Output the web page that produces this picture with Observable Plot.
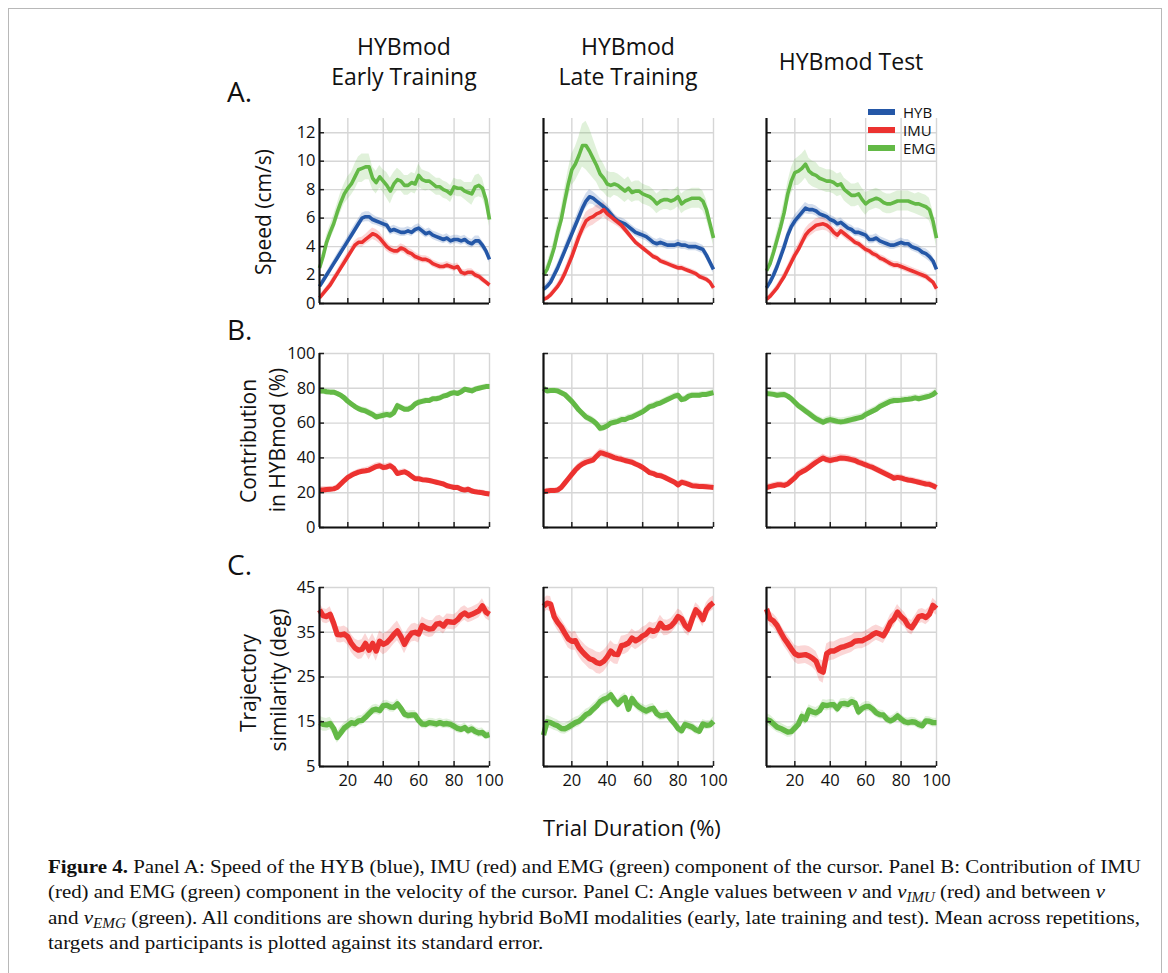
<!DOCTYPE html>
<html><head><meta charset="utf-8">
<script src="https://cdn.jsdelivr.net/npm/d3@7"></script>
<script src="https://cdn.jsdelivr.net/npm/@observablehq/plot@0.6"></script>
<style>
html,body{margin:0;padding:0;background:#fff;}
body{width:1168px;height:973px;overflow:hidden;position:relative;font-family:"Open Sans",sans-serif;color:#111;}
.abs{position:absolute;white-space:nowrap;}
#frame{position:absolute;left:8px;top:8px;width:1152px;height:1000px;border:1.5px solid #b8b8b8;}
.title{font-size:23px;line-height:30px;text-align:center;width:260px;}
.letter{font-size:28px;line-height:28px;}
.ylab{font-size:21px;line-height:24px;transform:translate(-50%,-50%) rotate(-90deg);}
.cap{position:absolute;left:48px;font-family:"Liberation Serif",serif;font-size:19.5px;line-height:25px;white-space:nowrap;color:#111;transform-origin:0 50%;}
.cap i{font-style:italic;}
.cap sub{font-size:0.72em;font-style:italic;vertical-align:-0.25em;line-height:0;}
.leg{font-size:15px;line-height:18px;}
.sw{position:absolute;width:27px;height:6px;}
</style></head><body>
<div id="frame"></div>
<div id="root"></div>
<script>
// ---------- data ----------
const pct = [4,6,8,10,12,14,16,18,20,22,24,26,28,30,32,34,36,38,40,42,44,46,48,50,52,54,56,58,60,62,64,66,68,70,72,74,76,78,80,82,84,86,88,90,92,94,96,98,100];
const conditions = [["HYBmod","Early Training"],["HYBmod","Late Training"],["HYBmod Test"]];
const components = ["HYB","IMU","EMG"];
const xTicks = [20,40,60,80,100];
const speedTicks = [0,2,4,6,8,10,12];
const contribTicks = [0,20,40,60,80,100];
const angleTicks = [5,15,25,35,45];

// Panel A: speed (cm/s)
const speedEarlyHYB = [1.2,1.6,2.0,2.4,2.8,3.2,3.6,4.0,4.4,4.8,5.2,5.6,6.0,6.1,6.1,5.9,5.8,5.7,5.6,5.5,5.1,5.2,5.1,5.0,5.0,5.1,5.0,5.2,5.3,5.1,4.9,5.0,4.8,4.7,4.6,4.5,4.6,4.4,4.5,4.5,4.4,4.5,4.3,4.2,4.4,4.4,4.1,3.7,3.1];
const speedEarlyIMU = [0.4,0.7,1.0,1.3,1.7,2.1,2.5,2.9,3.3,3.7,4.1,4.3,4.3,4.5,4.7,4.9,4.8,4.6,4.3,4.0,3.8,3.7,3.7,3.9,3.8,3.6,3.5,3.3,3.2,3.1,3.1,3.0,2.8,2.7,2.6,2.6,2.7,2.6,2.5,2.6,2.2,2.1,2.2,2.2,2.0,1.9,1.7,1.5,1.3];
const speedEarlyEMG = [2.5,3.3,4.3,5.0,5.6,6.4,7.1,7.7,8.1,8.4,8.9,9.4,9.5,9.6,9.6,8.8,8.5,8.9,8.6,8.3,7.9,8.4,8.7,8.6,8.3,8.3,8.5,8.4,9.0,8.7,8.6,8.6,8.4,8.2,8.2,8.0,7.9,7.7,8.2,8.1,8.1,7.9,7.8,7.7,8.2,8.3,8.1,7.3,5.9];
const speedLateHYB = [1.0,1.2,1.5,2.0,2.5,3.1,3.7,4.3,4.9,5.5,6.1,6.7,7.2,7.5,7.4,7.2,7.0,6.8,6.6,6.3,6.0,5.8,5.7,5.6,5.4,5.2,5.0,4.9,4.8,4.7,4.5,4.3,4.2,4.3,4.2,4.1,4.1,4.1,4.2,4.1,4.1,4.0,4.0,4.0,3.9,3.8,3.4,2.9,2.4];
const speedLateIMU = [0.3,0.4,0.6,0.9,1.2,1.6,2.1,2.7,3.3,4.0,4.7,5.3,5.8,6.0,6.1,6.3,6.4,6.6,6.3,6.1,5.9,5.7,5.5,5.2,4.9,4.6,4.3,4.1,3.9,3.7,3.5,3.3,3.2,3.0,2.9,2.8,2.7,2.6,2.5,2.5,2.4,2.3,2.2,2.1,1.9,1.8,1.7,1.5,1.1];
const speedLateEMG = [2.0,2.4,3.1,3.9,5.0,5.9,7.2,8.4,9.4,9.8,10.4,11.1,11.1,10.7,10.2,9.7,9.1,8.8,8.4,8.3,8.4,8.3,8.1,7.9,8.1,7.8,7.9,7.9,7.7,7.6,7.5,7.3,7.0,7.2,7.3,7.3,7.2,7.3,7.5,7.0,7.2,7.3,7.4,7.4,7.4,7.2,6.6,5.6,4.6];
const speedTestHYB = [1.1,1.5,2.0,2.6,3.3,4.0,4.8,5.4,5.8,6.1,6.4,6.7,6.6,6.6,6.5,6.3,6.2,6.1,5.9,5.8,5.6,5.7,5.5,5.3,5.2,5.0,5.0,4.9,4.8,4.5,4.5,4.6,4.4,4.3,4.2,4.1,4.1,4.2,4.3,4.2,4.2,4.0,3.9,3.8,3.6,3.5,3.3,3.0,2.4];
const speedTestIMU = [0.3,0.5,0.8,1.1,1.5,1.9,2.4,2.9,3.4,3.8,4.3,4.8,5.1,5.3,5.5,5.55,5.6,5.5,5.3,5.0,4.8,5.1,4.9,4.7,4.5,4.3,4.2,4.0,3.8,3.7,3.5,3.4,3.2,3.1,2.95,2.8,2.7,2.7,2.6,2.5,2.4,2.3,2.2,2.1,2.0,1.9,1.7,1.5,1.05];
const speedTestEMG = [2.3,2.8,3.6,4.5,5.4,6.4,7.7,8.6,9.2,9.3,9.5,9.8,9.3,9.1,9.0,8.8,8.7,8.6,8.6,8.5,8.3,8.4,8.0,7.8,7.6,7.6,7.7,7.3,7.0,7.2,7.3,7.4,7.3,7.1,7.0,7.0,7.1,7.2,7.2,7.2,7.2,7.1,7.0,7.0,6.9,6.8,6.6,5.8,4.6];
// standard errors, panel A
const seSpeedEarlyHYB = [0.2,0.2,0.2,0.25,0.25,0.3,0.3,0.3,0.3,0.35,0.35,0.35,0.35,0.35,0.35,0.35,0.3,0.3,0.3,0.3,0.3,0.3,0.3,0.3,0.3,0.3,0.3,0.3,0.3,0.3,0.3,0.3,0.3,0.3,0.3,0.3,0.3,0.3,0.3,0.3,0.3,0.3,0.3,0.3,0.35,0.35,0.3,0.3,0.25];
const seSpeedEarlyIMU = [0.15,0.2,0.2,0.25,0.25,0.25,0.3,0.3,0.3,0.3,0.3,0.3,0.35,0.35,0.4,0.4,0.4,0.4,0.35,0.35,0.3,0.3,0.3,0.3,0.3,0.3,0.3,0.3,0.25,0.25,0.25,0.25,0.25,0.25,0.25,0.25,0.25,0.25,0.25,0.25,0.25,0.25,0.25,0.25,0.25,0.25,0.25,0.2,0.2];
const seSpeedEarlyEMG = [0.3,0.4,0.5,0.5,0.6,0.6,0.7,0.7,0.8,0.8,0.9,0.9,1.0,0.9,0.9,0.8,0.8,0.8,0.8,0.9,0.9,0.8,0.8,0.7,0.7,0.7,0.7,0.7,0.8,0.7,0.7,0.6,0.6,0.6,0.6,0.6,0.6,0.6,0.6,0.6,0.6,0.6,0.7,0.8,0.8,0.8,0.7,0.6,0.5];
const seSpeedLateHYB = [0.2,0.25,0.3,0.3,0.35,0.35,0.4,0.4,0.45,0.45,0.5,0.5,0.5,0.5,0.45,0.45,0.4,0.4,0.35,0.35,0.3,0.3,0.3,0.3,0.3,0.3,0.3,0.3,0.3,0.3,0.3,0.3,0.3,0.3,0.3,0.3,0.3,0.3,0.3,0.3,0.3,0.3,0.3,0.3,0.3,0.3,0.3,0.3,0.25];
const seSpeedLateIMU = [0.15,0.15,0.2,0.2,0.25,0.3,0.35,0.4,0.45,0.5,0.5,0.55,0.6,0.6,0.6,0.6,0.55,0.5,0.45,0.4,0.35,0.3,0.3,0.25,0.25,0.2,0.2,0.2,0.2,0.2,0.2,0.2,0.2,0.2,0.2,0.2,0.2,0.2,0.2,0.2,0.2,0.2,0.2,0.2,0.2,0.2,0.2,0.2,0.2];
const seSpeedLateEMG = [0.3,0.4,0.5,0.6,0.7,0.8,0.9,1.0,1.1,1.2,1.3,1.5,1.7,1.6,1.4,1.2,1.1,1.0,0.9,0.9,0.8,0.8,0.8,0.8,0.8,0.7,0.7,0.7,0.7,0.7,0.7,0.7,0.7,0.7,0.7,0.7,0.7,0.7,0.7,0.7,0.7,0.7,0.7,0.7,0.7,0.7,0.7,0.6,0.5];
const seSpeedTestHYB = [0.2,0.25,0.3,0.3,0.35,0.35,0.35,0.4,0.4,0.4,0.4,0.4,0.35,0.35,0.35,0.35,0.3,0.3,0.3,0.3,0.3,0.3,0.3,0.3,0.3,0.3,0.3,0.3,0.3,0.3,0.3,0.3,0.3,0.3,0.3,0.3,0.3,0.3,0.3,0.3,0.3,0.3,0.3,0.3,0.3,0.35,0.35,0.3,0.25];
const seSpeedTestIMU = [0.15,0.2,0.2,0.25,0.25,0.3,0.3,0.35,0.35,0.4,0.4,0.45,0.45,0.45,0.45,0.45,0.45,0.4,0.4,0.35,0.35,0.3,0.3,0.3,0.25,0.25,0.25,0.25,0.25,0.25,0.25,0.25,0.25,0.25,0.25,0.25,0.25,0.25,0.25,0.25,0.25,0.25,0.25,0.25,0.25,0.25,0.25,0.2,0.2];
const seSpeedTestEMG = [0.3,0.4,0.5,0.6,0.7,0.8,0.8,0.9,0.9,1.0,1.0,1.0,0.9,0.9,0.9,0.8,0.8,0.8,0.8,0.8,0.8,0.8,0.8,0.8,0.8,0.8,0.8,0.8,0.8,0.7,0.7,0.7,0.7,0.7,0.7,0.7,0.7,0.7,0.7,0.7,0.7,0.7,0.7,0.8,0.8,0.8,0.8,0.7,0.6];

// Panel B: contribution in HYBmod (%)
const contribEarlyIMU = [21.5,21.5,21.8,22.0,22.2,23.0,25.0,27.0,28.8,30.0,31.0,31.8,32.3,32.6,33.0,34.0,35.0,35.5,34.5,34.8,35.5,34.0,31.0,31.5,32.0,31.0,29.5,28.0,28.0,27.5,27.3,27.0,26.5,26.0,25.5,25.0,24.0,23.5,23.0,23.0,22.0,21.5,22.0,21.0,20.5,20.2,20.0,19.5,19.2];
const contribEarlyEMG = [78.5,78.5,78.0,77.8,77.8,77.0,76.0,74.5,72.5,71.0,69.5,68.3,67.5,67.0,66.0,65.0,63.5,64.0,64.5,65.0,64.5,66.0,70.0,69.0,68.0,68.0,69.0,71.0,72.0,72.5,73.0,73.0,74.0,74.0,74.5,75.5,76.0,77.0,77.5,77.0,78.0,79.5,79.0,78.5,79.5,80.0,80.5,81.0,81.0];
const contribLateIMU = [20.5,21.0,21.2,21.2,21.5,23.0,25.5,28.0,30.5,33.0,35.0,36.5,37.5,38.2,38.8,41.0,43.0,42.5,41.8,41.0,40.2,39.6,39.2,38.5,38.0,37.5,36.5,35.6,34.5,33.0,31.5,31.0,30.0,29.8,29.0,28.0,27.0,26.0,24.5,26.0,25.5,24.8,24.0,23.8,23.6,23.5,23.4,23.2,23.0];
const contribLateEMG = [80.0,78.5,78.7,78.8,78.5,77.5,76.5,74.5,72.5,70.0,67.5,65.5,63.5,62.5,61.3,59.5,57.0,57.5,58.5,60.0,60.5,61.0,62.0,62.0,63.0,63.5,64.5,65.5,66.5,68.0,69.5,70.0,71.0,71.5,72.5,73.5,74.5,75.5,76.0,73.5,74.0,75.5,76.0,76.0,76.0,76.5,76.5,77.0,77.5];
const contribTestIMU = [23.0,23.5,24.0,24.5,24.6,24.2,25.0,26.8,28.5,30.8,32.0,33.0,34.5,36.0,37.5,38.8,40.0,39.0,38.5,39.0,39.4,40.0,39.8,39.5,39.0,38.5,37.5,36.8,36.0,35.2,34.5,33.5,32.5,31.5,30.5,29.5,28.3,28.8,28.5,27.8,27.3,27.0,26.5,26.0,25.5,25.0,24.8,24.0,23.0];
const contribTestEMG = [77.0,76.8,76.5,76.0,76.3,76.5,75.5,74.0,72.0,70.0,68.5,67.0,65.5,64.0,62.5,61.5,60.5,61.5,62.0,61.5,61.0,60.7,61.0,61.5,62.0,62.5,63.0,63.5,65.0,66.0,67.0,68.0,69.5,70.5,71.5,72.5,73.0,73.0,73.2,73.5,73.7,74.0,74.5,74.0,74.5,75.0,75.5,76.5,78.0];
const seContribEarly = [2.0,2.0,1.8,1.6,1.5,1.5,1.5,1.5,1.5,1.6,1.6,1.7,1.8,1.9,2.0,2.0,2.0,2.0,2.0,2.0,2.0,1.9,1.8,1.8,1.7,1.7,1.6,1.6,1.6,1.5,1.5,1.5,1.5,1.5,1.5,1.5,1.5,1.5,1.5,1.5,1.5,1.5,1.5,1.5,1.5,1.5,1.5,1.5,1.5];
const seContribLate = [1.5,1.5,1.5,1.5,1.5,1.6,1.7,1.8,1.9,2.0,2.0,2.0,2.1,2.2,2.2,2.3,2.3,2.2,2.2,2.1,2.0,2.0,2.0,1.9,1.9,1.9,1.8,1.8,1.8,1.8,1.8,1.8,1.8,1.8,1.8,1.8,1.8,1.8,1.8,1.8,1.8,1.8,1.8,1.8,1.8,1.8,1.8,1.8,1.8];
const seContribTest = [1.8,1.8,1.8,1.8,1.8,1.8,1.8,1.8,1.9,2.0,2.0,2.1,2.2,2.2,2.2,2.2,2.2,2.2,2.2,2.2,2.2,2.2,2.2,2.2,2.1,2.1,2.1,2.0,2.0,2.0,2.0,2.0,2.0,2.0,2.0,2.0,2.0,1.9,1.9,1.9,1.9,1.9,1.9,1.9,1.9,1.9,1.9,1.9,1.9];

// Panel C: trajectory similarity (deg)
const angleEarlyIMU = [40.0,38.7,38.5,39.0,37.0,34.5,34.4,34.6,34.0,32.5,31.5,31.0,31.2,32.5,31.0,32.5,30.8,33.0,32.3,32.7,33.5,34.5,35.3,34.0,32.3,33.8,34.8,35.0,34.6,36.5,36.0,35.7,35.8,36.8,37.0,36.4,37.4,37.3,37.2,37.8,38.8,39.3,38.7,39.0,39.4,39.8,40.9,39.5,39.0];
const angleEarlyEMG = [14.8,14.4,14.3,14.6,13.5,11.5,12.5,13.6,14.2,14.8,14.6,15.2,15.3,16.0,16.8,17.6,17.8,17.5,18.6,18.7,18.3,18.2,19.0,18.0,16.7,16.4,16.5,16.5,15.3,14.5,14.4,14.8,14.7,14.5,14.8,14.5,14.6,14.4,14.0,13.5,13.3,13.7,13.0,13.4,12.8,12.5,12.6,11.9,12.1];
const angleLateIMU = [40.8,41.5,41.3,38.5,37.2,36.2,34.8,33.5,33.0,33.1,31.6,30.6,29.8,29.1,28.8,28.2,28.0,28.5,29.5,30.8,30.1,30.0,32.0,32.2,32.6,33.7,33.1,33.5,34.2,34.6,35.5,35.2,35.5,37.0,36.0,36.0,36.4,37.3,38.5,38.0,36.5,35.7,38.0,40.0,39.2,37.8,40.0,41.0,41.6];
const angleLateEMG = [12.0,15.0,14.8,14.4,14.1,13.5,13.4,13.8,14.3,14.8,15.1,15.8,16.6,17.0,17.8,18.5,19.5,20.0,20.3,21.0,19.8,18.9,19.8,20.4,17.8,20.2,19.0,18.3,17.8,17.4,17.8,18.0,16.8,16.3,16.4,16.6,15.5,14.6,13.5,13.0,14.4,14.1,13.8,13.2,12.9,14.5,14.2,14.3,15.1];
const angleTestIMU = [40.2,38.0,37.5,36.5,35.0,33.6,32.5,31.3,30.2,29.8,29.9,30.0,29.7,29.2,28.5,26.5,26.1,30.2,30.8,30.8,31.2,31.6,31.8,32.1,32.4,33.0,33.1,33.1,33.5,33.9,34.5,34.9,34.6,34.2,35.5,37.2,38.0,39.5,38.5,37.8,36.5,36.0,37.2,38.5,38.7,38.3,39.0,41.0,40.3];
const angleTestEMG = [15.5,15.2,14.5,13.8,13.5,13.1,12.7,12.8,13.6,14.4,16.2,15.5,17.6,17.2,17.0,17.5,18.8,18.6,18.8,18.8,17.9,19.0,19.1,18.9,19.5,19.2,17.2,18.0,18.4,18.4,17.8,17.0,16.6,16.5,15.6,15.2,15.6,16.3,15.6,15.0,14.8,15.0,14.9,14.4,14.1,15.2,15.1,14.8,14.8];
const seAngleEarlyIMU = [1.5,1.6,1.6,1.7,1.8,1.8,1.8,1.8,1.9,2.0,2.0,2.1,2.1,2.2,2.2,2.2,2.3,2.3,2.3,2.3,2.2,2.2,2.2,2.1,2.1,2.0,2.0,2.0,2.0,1.9,1.9,1.9,1.8,1.8,1.8,1.8,1.7,1.7,1.7,1.7,1.7,1.6,1.6,1.6,1.6,1.6,1.6,1.5,1.5];
const seAngleEarlyEMG = [1.5,1.5,1.4,1.4,1.4,1.3,1.3,1.2,1.2,1.2,1.1,1.1,1.1,1.1,1.1,1.1,1.1,1.1,1.1,1.1,1.1,1.1,1.1,1.0,1.0,1.0,1.0,1.0,1.0,1.0,1.0,1.0,1.0,1.0,1.0,1.0,1.0,1.0,1.0,1.0,1.0,1.0,1.0,1.0,1.0,1.0,1.0,0.9,0.9];
const seAngleLateIMU = [1.6,1.6,1.7,1.7,1.8,1.8,1.9,2.0,2.0,2.1,2.1,2.2,2.2,2.3,2.3,2.4,2.4,2.4,2.3,2.3,2.2,2.2,2.1,2.1,2.0,2.0,2.0,1.9,1.9,1.9,1.8,1.8,1.8,1.8,1.8,1.7,1.7,1.7,1.7,1.7,1.7,1.6,1.6,1.6,1.6,1.6,1.6,1.6,1.5];
const seAngleLateEMG = [1.4,1.4,1.3,1.3,1.3,1.2,1.2,1.2,1.2,1.2,1.2,1.2,1.2,1.2,1.2,1.2,1.2,1.2,1.2,1.1,1.1,1.1,1.1,1.1,1.1,1.1,1.1,1.1,1.1,1.1,1.1,1.1,1.1,1.1,1.0,1.0,1.0,1.0,1.0,1.0,1.0,1.0,1.0,1.0,1.0,1.0,1.0,1.0,1.0];
const seAngleTestIMU = [1.6,1.6,1.6,1.7,1.7,1.8,1.8,1.9,1.9,2.0,2.0,2.0,2.1,2.1,2.2,2.4,2.5,2.2,2.1,2.0,2.0,2.0,1.9,1.9,1.9,1.9,1.8,1.8,1.8,1.8,1.8,1.7,1.7,1.7,1.7,1.7,1.7,1.7,1.7,1.6,1.6,1.6,1.6,1.6,1.6,1.6,1.6,1.6,1.5];
const seAngleTestEMG = [1.3,1.3,1.3,1.2,1.2,1.2,1.2,1.2,1.2,1.2,1.2,1.2,1.2,1.2,1.2,1.2,1.2,1.2,1.2,1.1,1.1,1.1,1.1,1.1,1.1,1.1,1.1,1.1,1.1,1.1,1.1,1.0,1.0,1.0,1.0,1.0,1.0,1.0,1.0,1.0,1.0,1.0,1.0,1.0,1.0,1.0,1.0,1.0,1.0];

const colors = {HYB: "#2457a7", IMU: "#ec3230", EMG: "#63b946"};

// ---------- layout ----------
const root = document.getElementById("root");
function addDiv(cls, html, style) {
  const d = document.createElement("div");
  d.className = "abs " + cls;
  d.innerHTML = html;
  Object.assign(d.style, style);
  root.appendChild(d);
  return d;
}
const colLeft = [319, 543, 766];
const plotW = 170;
const ml = 45, mr = 10, mt = 10, mb = 34;

const rows = [
  {top: 118, h: 185, domain: [0, 13], ticks: speedTicks, lw: 3.6,
   panels: [
     [["EMG", speedEarlyEMG, seSpeedEarlyEMG], ["HYB", speedEarlyHYB, seSpeedEarlyHYB], ["IMU", speedEarlyIMU, seSpeedEarlyIMU]],
     [["EMG", speedLateEMG, seSpeedLateEMG], ["HYB", speedLateHYB, seSpeedLateHYB], ["IMU", speedLateIMU, seSpeedLateIMU]],
     [["EMG", speedTestEMG, seSpeedTestEMG], ["HYB", speedTestHYB, seSpeedTestHYB], ["IMU", speedTestIMU, seSpeedTestIMU]]
   ]},
  {top: 353, h: 174, domain: [0, 100], ticks: contribTicks, lw: 5,
   panels: [
     [["EMG", contribEarlyEMG, seContribEarly], ["IMU", contribEarlyIMU, seContribEarly]],
     [["EMG", contribLateEMG, seContribLate], ["IMU", contribLateIMU, seContribLate]],
     [["EMG", contribTestEMG, seContribTest], ["IMU", contribTestIMU, seContribTest]]
   ]},
  {top: 587, h: 179, domain: [5, 45], ticks: angleTicks, lw: 5.4,
   panels: [
     [["EMG", angleEarlyEMG, seAngleEarlyEMG], ["IMU", angleEarlyIMU, seAngleEarlyIMU]],
     [["EMG", angleLateEMG, seAngleLateEMG], ["IMU", angleLateIMU, seAngleLateIMU]],
     [["EMG", angleTestEMG, seAngleTestEMG], ["IMU", angleTestIMU, seAngleTestIMU]]
   ]}
];

rows.forEach((row, ri) => {
  row.panels.forEach((series, ci) => {
    const showY = ci === 0;
    const showX = ri === 2;
    const marks = [
      Plot.gridX(xTicks, {stroke: "#d6d6d6", strokeOpacity: 1, strokeWidth: 1.4}),
      Plot.gridY(row.ticks, {stroke: "#d6d6d6", strokeOpacity: 1, strokeWidth: 1.4})
    ];
    const tables = series.map(([name, vals, se]) => {
      const n = Math.min(pct.length, vals.length, se.length);
      const d = [];
      for (let i = 0; i < n; i++) d.push({x: pct[i], y: vals[i], lo: vals[i] - se[i], hi: vals[i] + se[i]});
      return [name, d];
    });
    tables.forEach(([name, d]) => marks.push(Plot.areaY(d, {x: "x", y1: "lo", y2: "hi", fill: colors[name], fillOpacity: 0.2})));
    tables.forEach(([name, d]) => marks.push(Plot.lineY(d, {x: "x", y: "y", stroke: colors[name], strokeWidth: row.lw, strokeLinejoin: "round", strokeLinecap: "butt"})));
    marks.push(
      Plot.tickX(xTicks, {x: d => d, stroke: "#222", strokeWidth: 1.5, insetTop: row.h - 5}),
      Plot.tickY(row.ticks, {y: d => d, stroke: "#222", strokeWidth: 1.5, insetRight: plotW - 5}),
      Plot.ruleX([4], {stroke: "#111", strokeWidth: 2.2}),
      Plot.ruleY([row.domain[0]], {stroke: "#111", strokeWidth: 2.2})
    );
    const chart = Plot.plot({
      width: plotW + ml + mr,
      height: row.h + mt + mb,
      marginLeft: ml, marginRight: mr, marginTop: mt, marginBottom: mb,
      x: {domain: [4, 100], ticks: xTicks, tickSize: 0, tickPadding: 8, label: null, axis: showX ? "bottom" : null},
      y: {domain: row.domain, ticks: row.ticks, tickSize: 0, tickPadding: 4, label: null, axis: showY ? "left" : null},
      style: {fontFamily: "Open Sans", fontSize: "16.5px", color: "#111", background: "transparent", overflow: "visible"},
      marks
    });
    const wrap = document.createElement("div");
    wrap.className = "abs";
    wrap.style.left = (colLeft[ci] - ml) + "px";
    wrap.style.top = (row.top - mt) + "px";
    wrap.appendChild(chart);
    root.appendChild(wrap);
  });
});

// titles
const titleTops = [31, 31, 46];
conditions.forEach((c, i) => {
  addDiv("title", c.join("<br>"), {left: (colLeft[i] + plotW / 2 - 130) + "px", top: titleTops[i] + "px"});
});
// panel letters
addDiv("letter", "A.", {left: "227px", top: "77px"});
addDiv("letter", "B.", {left: "227px", top: "315px"});
addDiv("letter", "C.", {left: "227px", top: "550px"});
// y labels
addDiv("ylab", "Speed (cm/s)", {left: "263px", top: "212px"});
addDiv("ylab", "Contribution", {left: "248px", top: "441px"});
addDiv("ylab", "in HYBmod (%)", {left: "277px", top: "440px"});
addDiv("ylab", "Trajectory", {left: "248px", top: "683px"});
addDiv("ylab", "similarity (deg)", {left: "278px", top: "680px"});
// x label
addDiv("", "Trial Duration (%)", {left: "543px", top: "814px", fontSize: "22px", lineHeight: "26px"});
// legend
components.forEach((c, i) => {
  const y = 112 + i * 18;
  const sw = document.createElement("div");
  sw.className = "sw";
  sw.style.left = "868px"; sw.style.top = (y - 3) + "px"; sw.style.background = colors[c];
  root.appendChild(sw);
  addDiv("leg", c, {left: "903px", top: (y - 9) + "px"});
});
// caption: each line stretched horizontally to the reference line width
const capLines = [
  [1093, "<b>Figure 4.</b> Panel A: Speed of the HYB (blue), IMU (red) and EMG (green) component of the cursor. Panel B: Contribution of IMU"],
  [1057, "(red) and EMG (green) component in the velocity of the cursor. Panel C: Angle values between <i>v</i> and <i>v<sub>IMU</sub></i> (red) and between <i>v</i>"],
  [1092, "and <i>v<sub>EMG</sub></i> (green). All conditions are shown during hybrid BoMI modalities (early, late training and test). Mean across repetitions,"],
  [0, "targets and participants is plotted against its standard error."]
];
let lastScale = 1.1;
capLines.forEach(([w, html], i) => {
  const d = document.createElement("div");
  d.className = "cap";
  d.style.top = (854 + i * 25.3) + "px";
  d.innerHTML = html;
  root.appendChild(d);
  const natural = d.getBoundingClientRect().width;
  const s = w > 0 && natural > 0 ? w / natural : lastScale;
  if (w > 0) lastScale = s;
  d.style.transform = "scaleX(" + s + ")";
});
</script>
</body></html>
